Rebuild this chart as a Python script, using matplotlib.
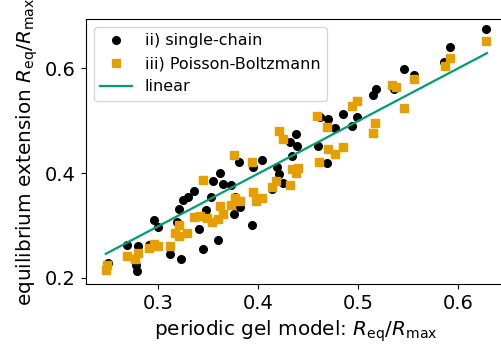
import matplotlib
matplotlib.use("Agg")
import matplotlib.pyplot as plt

# periodic gel model (x) vs. the other two models (y)
single_x = [0.2497, 0.278, 0.2787, 0.2693, 0.280, 0.2913, 0.2963, 0.2997, 0.312, 0.3227,
            0.3213, 0.3253, 0.330, 0.336, 0.3187, 0.3413, 0.3453, 0.348, 0.3527, 0.3553,
            0.362, 0.3653, 0.3727, 0.3603, 0.376, 0.3773, 0.382, 0.3813, 0.3937, 0.3953,
            0.4037, 0.4137, 0.4187, 0.4213, 0.4253, 0.432, 0.4337, 0.4377, 0.4393, 0.4597,
            0.462, 0.4687, 0.4697, 0.477, 0.4847, 0.4937, 0.4987, 0.5153, 0.5177, 0.5363,
            0.546, 0.556, 0.586, 0.592, 0.628]
single_y = [0.2283, 0.2237, 0.2135, 0.2621, 0.2602, 0.2621, 0.3096, 0.2967, 0.2456, 0.2360,
            0.3321, 0.3481, 0.3544, 0.3660, 0.3058, 0.2942, 0.2558, 0.3288, 0.3552, 0.3840,
            0.400, 0.3783, 0.3769, 0.2731, 0.3212, 0.3552, 0.3360, 0.4206, 0.300, 0.4110,
            0.425, 0.3692, 0.4110, 0.3981, 0.3802, 0.4602, 0.4333, 0.4737, 0.4525, 0.4525,
            0.5071, 0.4192, 0.5025, 0.4865, 0.5121, 0.489, 0.5071, 0.5487, 0.5602, 0.5602,
            0.598, 0.5871, 0.6129, 0.6398, 0.675]

pb_x = [0.2477, 0.2493, 0.2693, 0.277, 0.2797, 0.2913, 0.2963, 0.2997, 0.312, 0.3173,
        0.3213, 0.3213, 0.3293, 0.336, 0.342, 0.3487, 0.3537, 0.3603, 0.3653, 0.3453,
        0.362, 0.3727, 0.377, 0.382, 0.376, 0.394, 0.3953, 0.3977, 0.4037, 0.4137,
        0.418, 0.432, 0.4213, 0.4253, 0.4337, 0.438, 0.4403, 0.4613, 0.4593, 0.4687,
        0.4697, 0.477, 0.4847, 0.4937, 0.4987, 0.5173, 0.5153, 0.534, 0.538, 0.546,
        0.556, 0.587, 0.592, 0.628]
pb_y = [0.2154, 0.225, 0.241, 0.236, 0.2475, 0.2571, 0.2654, 0.2615, 0.2602, 0.286,
        0.300, 0.2808, 0.286, 0.3167, 0.3179, 0.3148, 0.3063, 0.3115, 0.3225, 0.3871,
        0.3371, 0.3385, 0.3533, 0.3467, 0.4352, 0.4206, 0.3648, 0.3467, 0.3533, 0.3737,
        0.384, 0.3769, 0.4802, 0.4654, 0.4077, 0.400, 0.409, 0.4217, 0.509, 0.4879,
        0.4462, 0.4365, 0.4494, 0.5275, 0.5371, 0.4956, 0.4769, 0.5679, 0.5635, 0.525,
        0.5788, 0.6052, 0.6206, 0.6525]

# linear fit end points
fit_x = [0.248, 0.629]
fit_y = [0.246, 0.629]

fig = plt.figure(figsize=(5.02, 3.47), dpi=100)
ax = fig.add_axes([0.171, 0.182, 0.835, 0.763])

ax.plot(single_x, single_y, "o", color="black", ms=5.5, label="ii) single-chain")
ax.plot(pb_x, pb_y, "s", color="#E69F00", ms=5.5, label="iii) Poisson-Boltzmann")
ax.plot(fit_x, fit_y, "-", color="#009E73", lw=1.6, label="linear")

ax.set_xlim(0.228, 0.647)
ax.set_ylim(0.1886, 0.694)
ax.set_xticks([0.3, 0.4, 0.5, 0.6])
ax.set_yticks([0.2, 0.4, 0.6])
ax.tick_params(labelsize=14)

ax.set_xlabel(r"periodic gel model: $R_{\mathrm{eq}}/R_{\mathrm{max}}$", fontsize=14.4)
ax.set_ylabel(r"equilibrium extension $R_{\mathrm{eq}}/R_{\mathrm{max}}$", fontsize=14.4)
ax.legend(loc="upper left", fontsize=11.5)

fig.savefig("out.png", dpi=100)
